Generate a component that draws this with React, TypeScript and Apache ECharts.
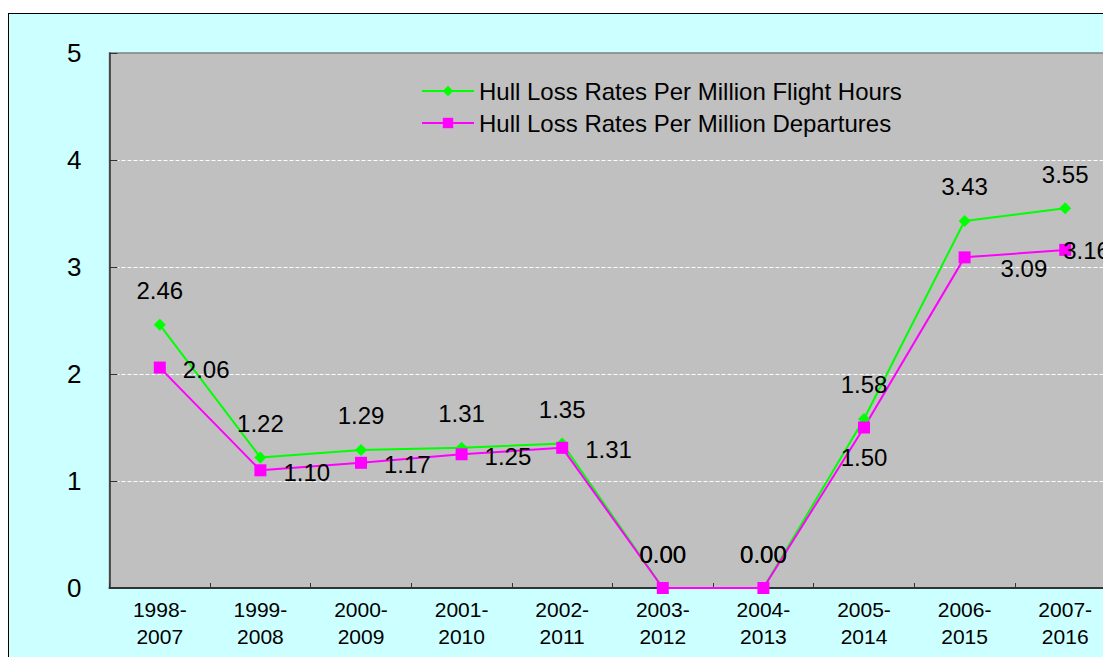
import React, { useEffect, useRef } from "react";
import * as echarts from "echarts";

const categories = [
  "1998-\n2007", "1999-\n2008", "2000-\n2009", "2001-\n2010", "2002-\n2011",
  "2003-\n2012", "2004-\n2013", "2005-\n2014", "2006-\n2015", "2007-\n2016",
];
const flightHours = [2.46, 1.22, 1.29, 1.31, 1.35, 0.0, 0.0, 1.58, 3.43, 3.55];
const departures = [2.06, 1.1, 1.17, 1.25, 1.31, 0.0, 0.0, 1.5, 3.09, 3.16];
const seriesNames = [
  "Hull Loss Rates Per Million Flight Hours",
  "Hull Loss Rates Per Million Departures",
];

const FONT = "'Liberation Sans', Arial, sans-serif";

export default function App() {
  const ref = useRef<HTMLDivElement>(null);
  useEffect(() => {
    if (!ref.current) return;
    const chart = echarts.init(ref.current, undefined, { renderer: "svg" });
    const fmt = (p: any) => Number(p.value).toFixed(2);
    const labelBase = {
      show: true,
      formatter: fmt,
      fontFamily: FONT,
      fontSize: 24,
      color: "#000",
    };
    const depData = departures.map((v, i) => {
      let label: any = undefined;
      if (i === 5 || i === 6) label = { position: "top", distance: 16, offset: [0, 0] };
      else if (i === 7) label = { position: "bottom", distance: 12, offset: [0, 0] };
      else if (i === 8) label = { position: "right", distance: 30, offset: [0, 11] };
      else if (i === 9) label = { position: "right", distance: -8, offset: [0, 1] };
      return label ? { value: v, label } : { value: v };
    });
    chart.setOption({
      animation: false,
      textStyle: { fontFamily: FONT },
      grid: {
        left: 109.5,
        top: 53,
        width: 1006,
        height: 535,
        outerBoundsMode: "none",
        containLabel: false,
        show: true,
        backgroundColor: "#C0C0C0",
        borderColor: "#808080",
        borderWidth: 1.5,
      },
      legend: {
        orient: "vertical",
        left: 416,
        top: 74,
        itemWidth: 52,
        itemHeight: 13,
        itemGap: 8,
        textStyle: { fontFamily: FONT, fontSize: 24, color: "#000" },
        data: seriesNames,
      },
      xAxis: {
        type: "category",
        data: categories,
        boundaryGap: true,
        axisLine: { lineStyle: { color: "#333", width: 2 } },
        axisTick: { show: true, inside: true, length: 5, lineStyle: { color: "#333" } },
        axisLabel: {
          fontFamily: FONT,
          fontSize: 21,
          lineHeight: 27,
          color: "#000",
          margin: 8,
          interval: 0,
        },
        splitLine: { show: false },
      },
      yAxis: {
        type: "value",
        min: 0,
        max: 5,
        interval: 1,
        axisLine: { show: true, lineStyle: { color: "#333", width: 1.5 } },
        axisTick: { show: true, inside: true, length: 8, lineStyle: { color: "#333" } },
        axisLabel: { fontFamily: FONT, fontSize: 26, color: "#000", margin: 28 },
        splitLine: {
          show: true,
          lineStyle: {
            color: ["transparent", "#fff", "#fff", "#fff", "#fff", "transparent"],
            type: [4, 2],
            width: 1,
          },
        },
      },
      series: [
        {
          name: seriesNames[0],
          type: "line",
          data: flightHours,
          symbol: "diamond",
          symbolSize: 12,
          itemStyle: { color: "#00FF00" },
          lineStyle: { color: "#00FF00", width: 2 },
          label: { ...labelBase, position: "top", distance: 16 },
        },
        {
          name: seriesNames[1],
          type: "line",
          data: depData,
          symbol: "rect",
          symbolSize: 12,
          itemStyle: { color: "#FF00FF" },
          lineStyle: { color: "#FF00FF", width: 2 },
          label: { ...labelBase, position: "right", distance: 17, offset: [0, 2] },
        },
      ],
    });
    return () => chart.dispose();
  }, []);
  return (
    <div
      style={{
        position: "absolute",
        left: 0,
        top: 0,
        width: 1103,
        height: 657,
        overflow: "hidden",
        background: "#fff",
      }}
    >
      <div
        style={{
          position: "absolute",
          left: 8,
          top: 13,
          width: 1200,
          height: 700,
          background: "#CCFFFF",
          border: "1.5px solid #000",
          boxSizing: "border-box",
        }}
      />
      <div
        ref={ref}
        style={{ position: "absolute", left: 0, top: 0, width: 1140, height: 657 }}
      />
    </div>
  );
}
